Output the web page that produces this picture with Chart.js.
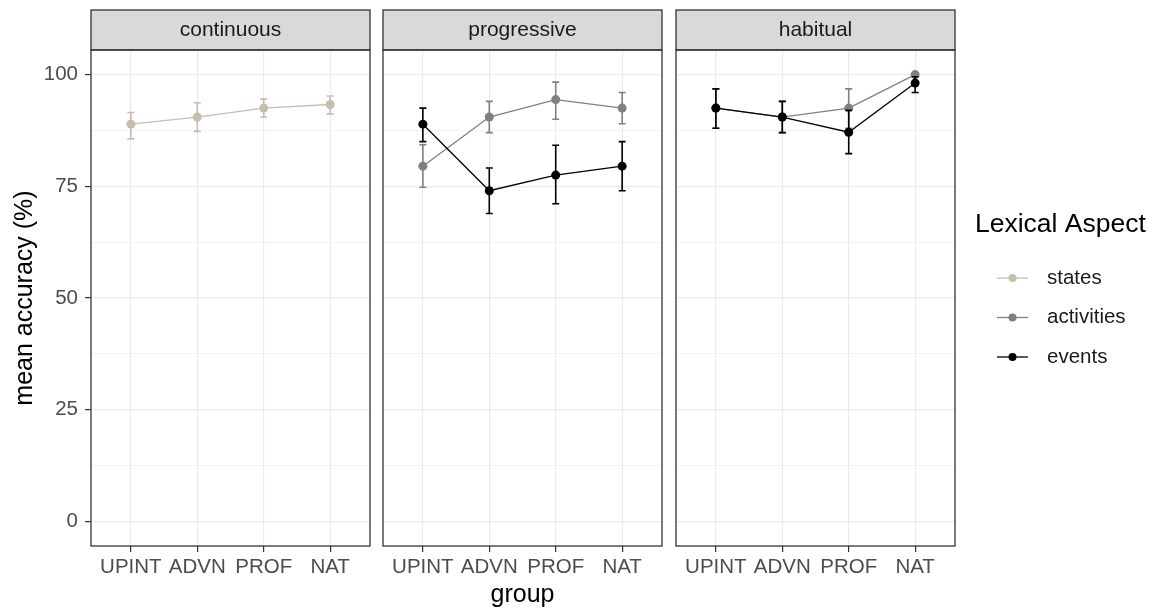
<!DOCTYPE html>
<html>
<head>
<meta charset="utf-8">
<script src="https://cdn.jsdelivr.net/npm/chart.js@4.4.0/dist/chart.umd.min.js"></script>
<style>
  body { margin: 0; background: #fff; }
  #wrap { position: relative; width: 1156px; height: 609px; }
  canvas { position: absolute; top: 0; }
</style>
</head>
<body>
<div id="wrap">
  <canvas id="panelCont" width="380" height="609" style="left:0px"></canvas>
  <canvas id="panelProg" width="300" height="609" style="left:375px"></canvas>
  <canvas id="panelHab" width="488" height="609" style="left:668px"></canvas>
</div>
<script>
const groups = ['UPINT', 'ADVN', 'PROF', 'NAT'];
const yTicks = [0, 12.5, 25, 37.5, 50, 62.5, 75, 87.5, 100];
const aspects = ['states', 'activities', 'events'];
const aspectColors = ['#c6bdad', '#808080', '#000000'];

// continuous
const contStates = [88.9, 90.5, 92.5, 93.3];
const contStatesLo = [85.6, 87.3, 90.5, 91.2];
const contStatesHi = [91.5, 93.7, 94.5, 95.2];

// progressive
const progActivities = [79.5, 90.5, 94.4, 92.5];
const progActivitiesLo = [74.8, 87.0, 90.0, 89.0];
const progActivitiesHi = [84.3, 94.0, 98.3, 96.0];
const progEvents = [88.9, 74.0, 77.5, 79.5];
const progEventsLo = [85.0, 68.9, 71.1, 74.0];
const progEventsHi = [92.5, 79.1, 84.2, 85.0];

// habitual
const habActivities = [92.5, 90.5, 92.5, 100];
const habActivitiesLo = [88.0, 87.0, 88.0, 100];
const habActivitiesHi = [96.8, 94.0, 96.8, 100];
const habEvents = [92.5, 90.5, 87.1, 98.1];
const habEventsLo = [88.0, 87.0, 82.3, 96.0];
const habEventsHi = [96.8, 94.0, 92.0, 99.5];

const FONT = "'Liberation Sans', Arial, sans-serif";
Chart.defaults.font.family = FONT;

function series(k, vals, lo, hi) {
  return {
    label: aspects[k],
    data: vals.map((v, i) => ({ x: i + 1, y: v })),
    lo: lo,
    hi: hi,
    borderColor: aspectColors[k],
    backgroundColor: aspectColors[k],
    pointBackgroundColor: aspectColors[k],
    pointRadius: 4.5,
    pointHoverRadius: 4.5,
    pointBorderWidth: 0,
    borderWidth: 1.3,
    tension: 0,
    order: 2 - k // events on top
  };
}

// strip on top + panel border
function panelDecor(title) {
  return {
    id: 'panelDecor',
    afterDraw(chart) {
      const { ctx, chartArea: a } = chart;
      ctx.save();
      ctx.fillStyle = '#d9d9d9';
      ctx.fillRect(a.left, 10, a.right - a.left, a.top - 10);
      ctx.strokeStyle = '#333333';
      ctx.lineWidth = 1.3;
      ctx.strokeRect(a.left, 10, a.right - a.left, a.top - 10);
      ctx.strokeRect(a.left, a.top, a.right - a.left, a.bottom - a.top);
      ctx.fillStyle = '#1a1a1a';
      ctx.font = '21px ' + FONT;
      ctx.textAlign = 'center';
      ctx.textBaseline = 'middle';
      ctx.fillText(title, (a.left + a.right) / 2, 30);
      ctx.restore();
    }
  };
}

const errorBars = {
  id: 'errorBars',
  afterDatasetDraw(chart, args) {
    const ds = chart.data.datasets[args.index];
    if (!ds.lo) return;
    const xs = chart.scales.x, ys = chart.scales.y, ctx = chart.ctx;
    ctx.save();
    ctx.strokeStyle = ds.borderColor;
    ctx.lineWidth = 1.6;
    ds.data.forEach((p, i) => {
      const px = xs.getPixelForValue(p.x);
      const y1 = ys.getPixelForValue(ds.lo[i]);
      const y2 = ys.getPixelForValue(ds.hi[i]);
      ctx.beginPath();
      ctx.moveTo(px, y1); ctx.lineTo(px, y2);
      ctx.moveTo(px - 3.5, y1); ctx.lineTo(px + 3.5, y1);
      ctx.moveTo(px - 3.5, y2); ctx.lineTo(px + 3.5, y2);
      ctx.stroke();
    });
    ctx.restore();
  }
};

// ggplot style legend at the right of the last panel
const lexLegend = {
  id: 'lexLegend',
  afterDraw(chart) {
    const ctx = chart.ctx;
    const r = chart.chartArea.right;
    ctx.save();
    ctx.fillStyle = '#000';
    ctx.font = '26.5px ' + FONT;
    ctx.textAlign = 'left';
    ctx.textBaseline = 'alphabetic';
    ctx.fillText('Lexical Aspect', r + 20, 232);
    aspects.forEach((name, k) => {
      const yy = 278 + k * 39.5;
      ctx.strokeStyle = aspectColors[k];
      ctx.lineWidth = 1.3;
      ctx.beginPath();
      ctx.moveTo(r + 42, yy); ctx.lineTo(r + 73, yy);
      ctx.stroke();
      ctx.fillStyle = aspectColors[k];
      ctx.beginPath();
      ctx.arc(r + 57.5, yy, 4, 0, Math.PI * 2);
      ctx.fill();
      ctx.fillStyle = '#1a1a1a';
      ctx.font = '20.5px ' + FONT;
      ctx.textBaseline = 'middle';
      ctx.fillText(name, r + 92, yy);
    });
    ctx.restore();
  }
};

function makeScales(first, xTitle) {
  const major = c => c.tick && c.tick.value % 25 === 0;
  return {
    x: {
      type: 'linear',
      min: 0.4,
      max: 4.6,
      afterBuildTicks: s => { s.ticks = groups.map((g, i) => ({ value: i + 1 })); },
      afterFit: s => { s.height = 63; },
      ticks: {
        callback: v => groups[v - 1],
        color: '#4d4d4d',
        font: { size: 20.5 },
        padding: 3,
        maxRotation: 0,
        autoSkip: false
      },
      grid: { color: '#ebebeb', lineWidth: 1.2, tickColor: '#333333', tickLength: 6, tickWidth: 1.2 },
      border: { display: false },
      title: {
        display: xTitle,
        text: 'group',
        color: '#000',
        font: { size: 25, lineHeight: 1.1 },
        padding: { top: 0, bottom: 0 }
      }
    },
    y: {
      min: -5.5,
      max: 105.5,
      afterBuildTicks: s => { s.ticks = yTicks.map(v => ({ value: v })); },
      afterFit: s => { s.width = first ? 91 : 8; },
      ticks: {
        display: first,
        callback: v => (v % 25 === 0 ? v : ''),
        color: '#4d4d4d',
        font: { size: 20.5 },
        padding: 7
      },
      grid: {
        color: '#ebebeb',
        lineWidth: c => (major(c) ? 1.2 : 0.6),
        drawTicks: first,
        tickLength: 6,
        tickWidth: 1.2,
        tickColor: c => (major(c) ? '#333333' : 'rgba(0,0,0,0)')
      },
      border: { display: false },
      title: {
        display: first,
        text: 'mean accuracy (%)',
        color: '#000',
        font: { size: 25, lineHeight: 1.1 },
        padding: { top: 11, bottom: 0 }
      }
    }
  };
}

function makePanel(id, title, datasets, first, xTitle, padRight, extra) {
  return new Chart(document.getElementById(id), {
    type: 'line',
    data: { datasets: datasets },
    options: {
      responsive: false,
      animation: false,
      devicePixelRatio: 1,
      layout: { padding: { top: 50, left: 0, right: padRight, bottom: 0 } },
      plugins: { legend: { display: false }, tooltip: { enabled: false } },
      scales: makeScales(first, xTitle)
    },
    plugins: [errorBars, panelDecor(title)].concat(extra || [])
  });
}

makePanel('panelCont', 'continuous', [
  series(0, contStates, contStatesLo, contStatesHi)
], true, false, 10);

makePanel('panelProg', 'progressive', [
  series(1, progActivities, progActivitiesLo, progActivitiesHi),
  series(2, progEvents, progEventsLo, progEventsHi)
], false, true, 13);

makePanel('panelHab', 'habitual', [
  series(1, habActivities, habActivitiesLo, habActivitiesHi),
  series(2, habEvents, habEventsLo, habEventsHi)
], false, false, 201, [lexLegend]);
</script>
</body>
</html>
